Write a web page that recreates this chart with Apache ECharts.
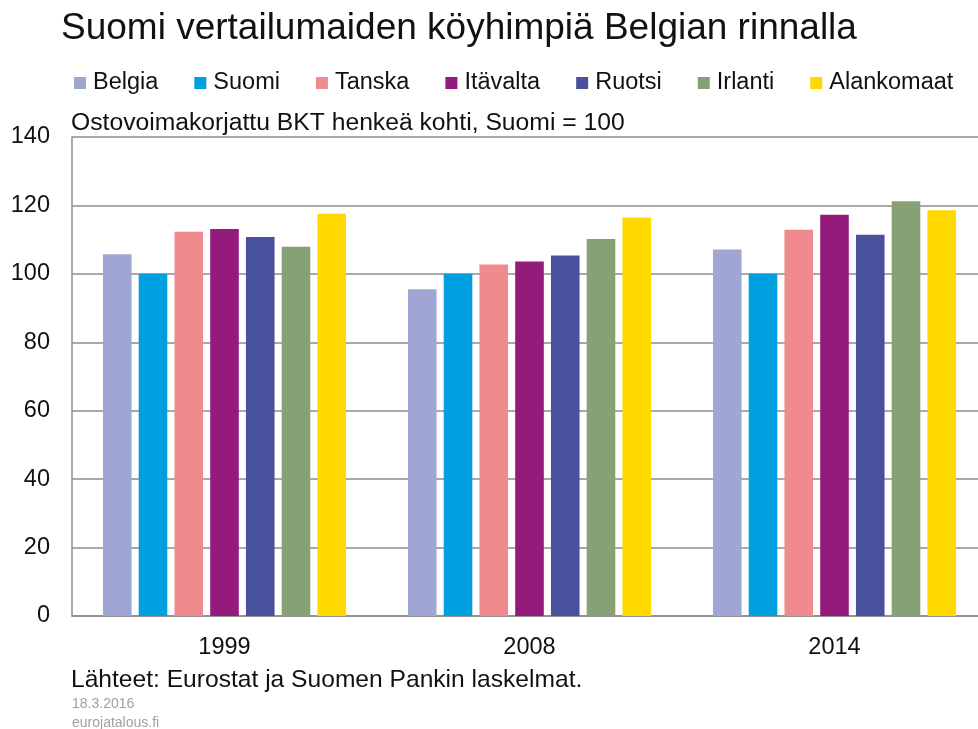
<!DOCTYPE html>
<html>
<head>
<meta charset="utf-8">
<script src="https://cdn.jsdelivr.net/npm/echarts@6/dist/echarts.min.js"></script>
<style>
  html, body { margin: 0; padding: 0; background: #fff; overflow: hidden; }
  /* plot runs off the right edge in the original, so the canvas is a bit wider than the window */
  #chart { width: 990px; height: 729px; }
</style>
</head>
<body>
<div id="chart"></div>
<script>
const years = ["1999", "2008", "2014"];
const countries = ["Belgia", "Suomi", "Tanska", "Itävalta", "Ruotsi", "Irlanti", "Alankomaat"];
const colors = ["#a0a6d4", "#009fe0", "#ef8b8f", "#941a7b", "#4a519c", "#87a076", "#ffd800"];

// one value per year, Suomi = 100
const belgia = [105.7, 95.5, 107.1];
const suomi = [100, 100, 100];
const tanska = [112.3, 102.7, 112.9];
const itavalta = [113.1, 103.6, 117.3];
const ruotsi = [110.8, 105.4, 111.4];
const irlanti = [107.9, 110.2, 121.2];
const alankomaat = [117.6, 116.5, 118.6];

const yTicks = [0, 20, 40, 60, 80, 100, 120, 140];

const seriesData = [belgia, suomi, tanska, itavalta, ruotsi, irlanti, alankomaat];
const font = "Liberation Sans, Arial, sans-serif";

const chart = echarts.init(document.getElementById("chart"));

chart.setOption({
  animation: false,
  backgroundColor: "#fff",
  color: colors,
  title: [
    {
      text: "Suomi vertailumaiden köyhimpiä Belgian rinnalla",
      left: 61, top: 10, padding: 0,
      textStyle: { fontFamily: font, fontSize: 37, fontWeight: "normal", color: "#111" }
    },
    {
      text: "Ostovoimakorjattu BKT henkeä kohti, Suomi = 100",
      left: 71, top: 111, padding: 0,
      textStyle: { fontFamily: font, fontSize: 24.7, fontWeight: "normal", color: "#111" }
    },
    {
      text: "Lähteet: Eurostat ja Suomen Pankin laskelmat.",
      left: 71, top: 668, padding: 0,
      textStyle: { fontFamily: font, fontSize: 24.6, fontWeight: "normal", color: "#111" }
    },
    {
      text: "18.3.2016\neurojatalous.fi",
      left: 72, top: 695, padding: 0,
      textStyle: { fontFamily: font, fontSize: 14, fontWeight: "normal", color: "#a0a0a0", lineHeight: 18.5 }
    }
  ],
  legend: {
    left: 74, top: 71, padding: 0,
    itemWidth: 12, itemHeight: 12, itemGap: 36,
    icon: "rect",
    textStyle: { fontFamily: font, fontSize: 23.5, color: "#111", padding: [0, 0, 0, 2] },
    data: countries
  },
  grid: { left: 72, right: 3, top: 137, bottom: 113 },
  xAxis: {
    type: "category",
    data: years,
    axisLine: { lineStyle: { color: "#8c8c8c", width: 1.5 } },
    axisTick: { show: false },
    axisLabel: { fontFamily: font, fontSize: 23.5, color: "#111", margin: 20 }
  },
  yAxis: {
    type: "value",
    min: yTicks[0], max: yTicks[yTicks.length - 1], interval: 20,
    axisLine: { show: true, lineStyle: { color: "#8c8c8c", width: 1.5 } },
    axisTick: { show: false },
    axisLabel: { fontFamily: font, fontSize: 23.5, color: "#111", margin: 22 },
    splitLine: { lineStyle: { color: "#8c8c8c", width: 1.5 } }
  },
  series: countries.map((name, i) => ({
    name: name,
    type: "bar",
    data: seriesData[i],
    barWidth: 28.6,
    barGap: "25%"
  }))
});
</script>
</body>
</html>
